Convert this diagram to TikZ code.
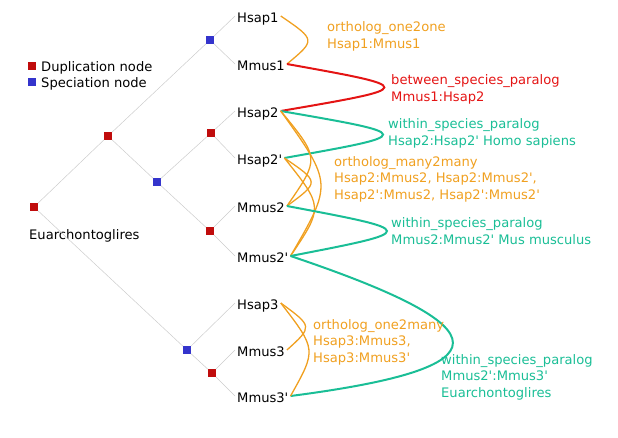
\documentclass[tikz,border=0pt]{standalone}
\usepackage{fontspec}
\setmainfont{DejaVu Sans}
\usetikzlibrary{calc}
\definecolor{dupred}{RGB}{192,12,12}
\definecolor{specblue}{RGB}{52,52,204}
\definecolor{orthorange}{RGB}{240,160,32}
\definecolor{bspred}{RGB}{228,20,20}
\definecolor{wspteal}{RGB}{26,190,150}
\newcommand{\apos}{\textquotesingle}
\tikzset{
	dup/.style={fill=dupred,minimum size=7.5pt,inner sep=0pt},
	spec/.style={fill=specblue,minimum size=7.5pt,inner sep=0pt},
	leaf/.style={anchor=base west,inner sep=2pt,text height=12pt,text depth=0pt},
	lbl/.style={anchor=base west,align=left,inner sep=0pt},
	tree/.style={draw=gray!40,line width=0.5pt},
	orth/.style={draw=orthorange,line width=1.3pt},
	bsp/.style={draw=bspred,line width=2pt},
	wsp/.style={draw=wspteal,line width=2pt}
}
\begin{document}
\begin{tikzpicture}[x=1pt,y=-1pt,font=\fontsize{13.1}{16.3}\selectfont]
            \useasboundingbox (0,0) rectangle (618,437);
            \node[dup] (legdup) at (32,66) {};
            \node[spec] (legspec) at (32,82) {};
            \node[lbl] (legduptext) at (41,71) {Duplication node};
            \node[lbl] (legspectext) at (41,87) {Speciation node};
            \node[dup] (root) at (34,207) {};
            \node[lbl] (rootname) at (29,239) {Euarchontoglires};
            \node[dup] (d1) at (108,136) {};
            \node[spec] (s1) at (210,40) {};
            \node[spec] (s2) at (157,182) {};
            \node[dup] (d2) at (211,133) {};
            \node[dup] (d3) at (210,231) {};
            \node[spec] (s3) at (187,350) {};
            \node[dup] (d4) at (212,373) {};
            \node[leaf] (hsap1) at (235,22) {Hsap1};
            \node[leaf] (mmus1) at (235,70) {Mmus1};
            \node[leaf] (hsap2) at (235,117) {Hsap2};
            \node[leaf] (hsap2p) at (235,164) {Hsap2\apos};
            \node[leaf] (mmus2) at (235,212) {Mmus2};
            \node[leaf] (mmus2p) at (235,262) {Mmus2\apos};
            \node[leaf] (hsap3) at (235,309) {Hsap3};
            \node[leaf] (mmus3) at (235,356) {Mmus3};
            \node[leaf] (mmus3p) at (235,402) {Mmus3\apos};
            \draw[tree] (root) -- (d1) -- (s1) -- (hsap1.west);
            \draw[tree] (s1) -- (mmus1.west);
            \draw[tree] (d1) -- (s2) -- (d2) -- (hsap2.west);
            \draw[tree] (d2) -- (hsap2p.west);
            \draw[tree] (s2) -- (d3) -- (mmus2.west);
            \draw[tree] (d3) -- (mmus2p.west);
            \draw[tree] (root) -- (s3) -- (hsap3.west);
            \draw[tree] (s3) -- (d4) -- (mmus3.west);
            \draw[tree] (d4) -- (mmus3p.west);
            \draw[orth] (hsap1.east) .. controls ($(hsap1.east)!.5!(mmus1.east)+(32,0)$) .. (mmus1.east);
            \draw[bsp] (mmus1.east) .. controls ($(mmus1.east)!.5!(hsap2.east)+(134,0)$) .. (hsap2.east);
            \draw[wsp] (hsap2.east) .. controls ($(hsap2.east)!.5!(hsap2p.east)+(134,0)$) .. (hsap2p.east);
            \draw[orth] (hsap2.east) .. controls ($(hsap2.east)!.5!(mmus2.east)+(36,0)$) .. (mmus2.east);
            \draw[orth] (hsap2.east) .. controls ($(hsap2.east)!.5!(mmus2p.east)+(47,0)$) .. (mmus2p.east);
            \draw[orth] (hsap2p.east) .. controls ($(hsap2p.east)!.5!(mmus2.east)+(34,0)$) .. (mmus2.east);
            \draw[orth] (hsap2p.east) .. controls ($(hsap2p.east)!.5!(mmus2p.east)+(36,0)$) .. (mmus2p.east);
            \draw[wsp] (mmus2.east) .. controls ($(mmus2.east)!.5!(mmus2p.east)+(131,0)$) .. (mmus2p.east);
            \draw[wsp] (mmus2p.east) .. controls +(217,73) and +(216,-28) .. (mmus3p.east);
            \draw[orth] (hsap3.east) .. controls ($(hsap3.east)!.5!(mmus3.east)+(29,0)$) .. (mmus3.east);
            \draw[orth] (hsap3.east) .. controls ($(hsap3.east)!.5!(mmus3p.east)+(31,0)$) .. (mmus3p.east);
            \node[lbl,text=orthorange] (one2one) at (327,48) {ortholog\_one2one\\Hsap1:Mmus1};
            \node[lbl,text=bspred] (between) at (391,101) {between\_species\_paralog\\Mmus1:Hsap2};
            \node[lbl,text=wspteal] (withinhs) at (388,145) {within\_species\_paralog\\Hsap2:Hsap2\apos{} Homo sapiens};
            \node[lbl,text=orthorange] (many2many) at (334,199) {ortholog\_many2many\\Hsap2:Mmus2, Hsap2:Mmus2\apos,\\Hsap2\apos:Mmus2, Hsap2\apos:Mmus2\apos};
            \node[lbl,text=wspteal] (withinmm) at (391,244) {within\_species\_paralog\\Mmus2:Mmus2\apos{} Mus musculus};
            \node[lbl,text=orthorange] (one2many) at (313,362) {ortholog\_one2many\\Hsap3:Mmus3,\\Hsap3:Mmus3\apos};
            \node[lbl,text=wspteal] (withineu) at (441,397) {within\_species\_paralog\\Mmus2\apos:Mmus3\apos\\Euarchontoglires};
        \end{tikzpicture}
\end{document}
